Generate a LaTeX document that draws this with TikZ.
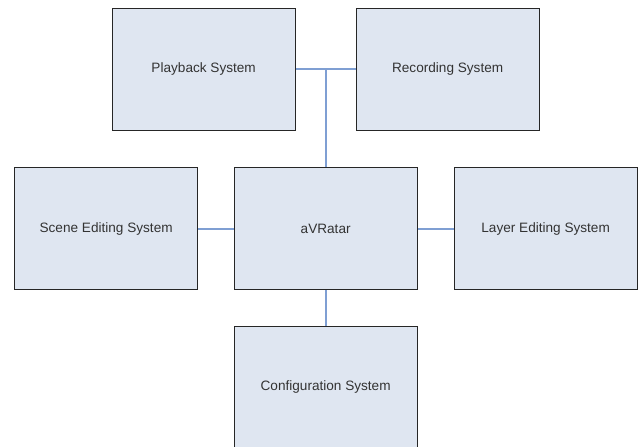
\documentclass[tikz,border=0pt]{standalone}
\usepackage{fontspec}
\setmainfont{Liberation Sans}
\begin{document}
\begin{tikzpicture}[x=1pt,y=-1pt,
  sysbox/.style={draw=black!85,fill=boxfill,line width=1.3pt,minimum width=183pt,minimum height=122pt,inner sep=0pt,font=\fontsize{13.6}{16}\selectfont,text=black!80,anchor=north west},
  link/.style={draw=linkblue,line width=1.7pt}]
\definecolor{boxfill}{HTML}{DFE6F1}
\definecolor{linkblue}{HTML}{7F9FD3}
\useasboundingbox[fill=white] (0,0) rectangle (638,447);
\node[sysbox] (play) at (111.5,7.5) {Playback System};
\node[sysbox] (rec) at (355.5,7.5) {Recording System};
\node[sysbox] (scene) at (14,167) {Scene Editing System};
\node[sysbox] (avr) at (233.5,167) {aVRatar};
\node[sysbox] (layer) at (453.5,167) {Layer Editing System};
\node[sysbox] (conf) at (233.5,325.5) {Configuration System};
\coordinate (j) at (avr.north |- play.east);
\draw[link] (play.east) -- (rec.west);
\draw[link] (j) -- (avr.north);
\draw[link] (scene.east) -- (avr.west);
\draw[link] (avr.east) -- (layer.west);
\draw[link] (avr.south) -- (conf.north);
\end{tikzpicture}
\end{document}
